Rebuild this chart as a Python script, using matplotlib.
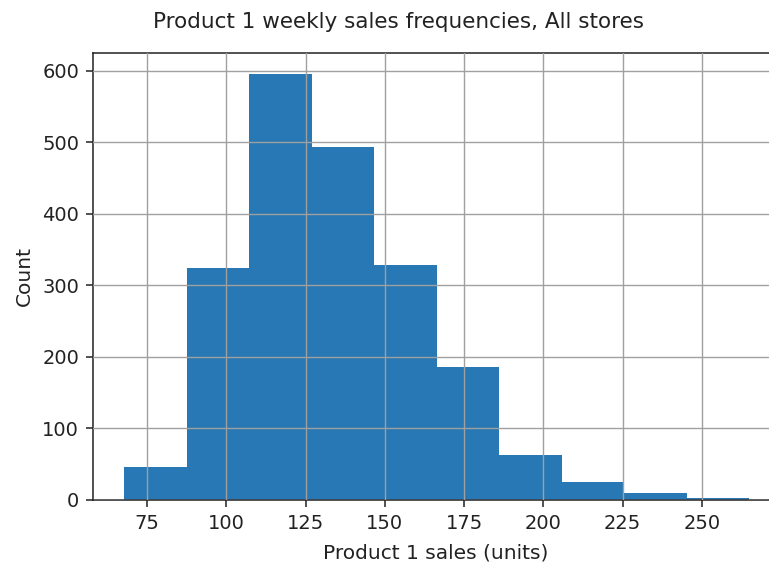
#!/usr/bin/env python3
"""Histogram of Product 1 weekly sales, all stores."""

import matplotlib
matplotlib.use('Agg')
import matplotlib.pyplot as plt

# Bin edges (units) and counts
bin_edges = [67.8, 87.5, 107.2, 126.9, 146.6, 166.4, 186.1, 205.8, 225.5, 245.2, 264.9]
counts = [46, 324, 595, 493, 328, 186, 63, 25, 10, 3]

x_ticks = [75, 100, 125, 150, 175, 200, 225, 250]
y_ticks = [0, 100, 200, 300, 400, 500, 600]

plt.rcParams['font.family'] = ['DejaVu Sans']

fig = plt.figure(figsize=(7.69, 5.69), dpi=100)
# axes runs a little past the right edge, as in the reference (cropped)
ax = fig.add_axes([0.121, 0.1213, 0.892, 0.7856])

ax.hist(bin_edges[:-1], bins=bin_edges, weights=counts, color='#2878b5')

ax.set_xlim(58.0, 274.3)
ax.set_ylim(0, 625)
ax.set_xticks(x_ticks)
ax.set_yticks(y_ticks)
ax.tick_params(axis='both', labelsize=14, direction='out', length=5,
               width=1.1, pad=5, colors='#222222')
ax.grid(True, color='#a0a0a0', linewidth=1.0)
ax.set_axisbelow(False)
for side in ('left', 'bottom', 'top', 'right'):
    ax.spines[side].set_color('#222222')
    ax.spines[side].set_linewidth(1.1)

ax.set_xlabel('Product 1 sales (units)', fontsize=14.5, labelpad=8, color='#222222')
ax.set_ylabel('Count', fontsize=14.5, labelpad=6, color='#222222')
ax.set_title('Product 1 weekly sales frequencies, All stores', fontsize=15.5,
             pad=18, color='#222222', x=0.4446)

fig.savefig('out.png', dpi=100)
